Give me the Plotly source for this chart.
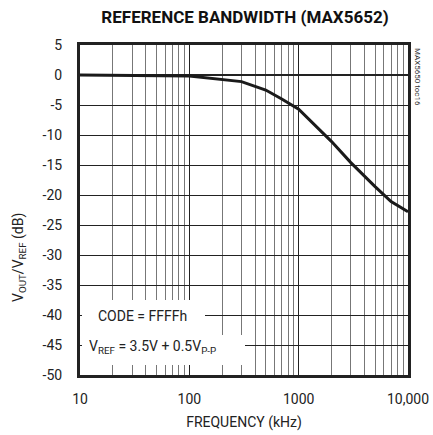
import plotly.graph_objects as go

freq_khz = [10, 50, 100, 300, 500, 700, 1000, 2000, 3000, 5000, 6000, 7000, 10000]
gain_db = [0.0, -0.05, -0.15, -1.1, -2.5, -4.0, -5.7, -11.1, -14.6, -18.6, -20.0, -21.1, -22.8]

x_major = [10, 100, 1000, 10000]
x_labels = ["10", "100", "1000", "10,000"]
x_minor = [m * d for d in (10, 100, 1000) for m in range(2, 10)]
y_ticks = list(range(5, -55, -5))
y_labels = [str(v) for v in y_ticks]

FONT = "Roboto, Liberation Sans, sans-serif"

fig = go.Figure()
fig.add_trace(go.Scatter(x=freq_khz, y=gain_db, mode="lines",
                         line=dict(color="#1a1a1a", width=3), showlegend=False,
                         hoverinfo="skip"))

L, T, W, H = 80, 45, 328, 330
def px(x): return (x - L) / W
def py(y): return (T + H - y) / H

fig.update_layout(
    width=433, height=435,
    margin=dict(l=L, r=433 - L - W, t=T, b=435 - T - H, autoexpand=False),
    paper_bgcolor="white", plot_bgcolor="white",
    font=dict(family=FONT, size=14, color="#222"),
    title=dict(text="<b>REFERENCE BANDWIDTH (MAX5652)</b>", x=245 / 433, xanchor="center",
               y=1 - 17 / 435, yanchor="middle", font=dict(size=17, family=FONT, color="#111")),
    xaxis=dict(type="log", range=[1, 4], tickvals=x_major, ticktext=x_labels,
               automargin=False,
               showgrid=True, gridcolor="#222", gridwidth=1,
               ticks="outside", ticklen=9, tickcolor="rgba(0,0,0,0)",
               minor=dict(tickvals=x_minor, showgrid=True, gridcolor="#777", gridwidth=1, ticks=""),
               showline=True, linecolor="#222", linewidth=3, mirror=True, zeroline=False,
               title=dict(text="FREQUENCY (kHz)", standoff=12, font=dict(size=14)),
               tickfont=dict(size=14)),
    yaxis=dict(range=[-50, 5], tickvals=y_ticks, ticktext=y_labels,
               automargin=False,
               showgrid=True, gridcolor="#222", gridwidth=1,
               ticks="outside", ticklen=12, tickcolor="rgba(0,0,0,0)",
               showline=True, linecolor="#222", linewidth=3, mirror=True,
               zeroline=True, zerolinecolor="#222", zerolinewidth=2,
               tickfont=dict(size=14)),
    shapes=[
        dict(type="rect", xref="paper", yref="paper", x0=px(82), x1=px(205), y0=py(335), y1=py(300),
             fillcolor="white", line=dict(width=0), layer="above"),
        dict(type="rect", xref="paper", yref="paper", x0=px(82), x1=px(245), y0=py(365), y1=py(335),
             fillcolor="white", line=dict(width=0), layer="above"),
    ],
    annotations=[
        dict(text="V<sub>OUT</sub>/V<sub>REF</sub> (dB)", xref="paper", yref="paper",
             x=px(19), y=py(258), xanchor="center", yanchor="middle", textangle=-90,
             showarrow=False, font=dict(size=14)),
        dict(text="CODE = FFFFh", xref="paper", yref="paper", x=px(96), y=py(316),
             xanchor="left", yanchor="middle", showarrow=False, font=dict(size=14)),
        dict(text="V<sub>REF</sub> = 3.5V + 0.5V<sub>P-P</sub>", xref="paper", yref="paper",
             x=px(87), y=py(347), xanchor="left", yanchor="middle", showarrow=False,
             font=dict(size=14)),
        dict(text="MAX5650 toc16", xref="paper", yref="paper", x=px(418), y=py(46),
             xanchor="center", yanchor="top", textangle=90, showarrow=False,
             font=dict(size=8, color="#333")),
    ],
)

fig.write_html("out.html")
